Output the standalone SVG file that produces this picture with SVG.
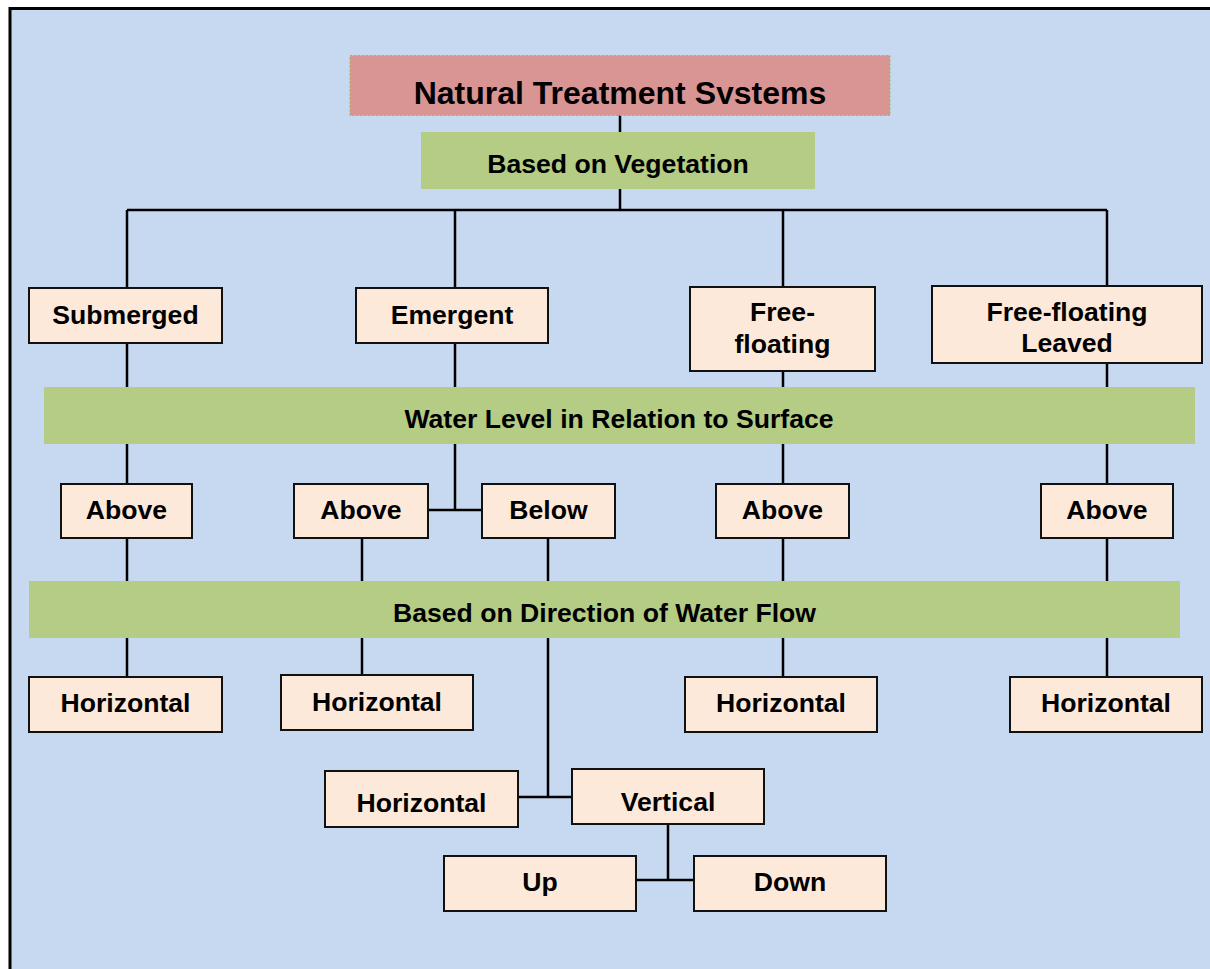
<svg xmlns="http://www.w3.org/2000/svg" width="1210" height="969" viewBox="0 0 1210 969">
<defs>
<style>
.bg{fill:#C6D9F1;stroke:#000;stroke-width:3}
.box{fill:#FDE9D9;stroke:#111;stroke-width:2}
.band{fill:#B4CC84}
.title{fill:#D99594;stroke:#9BBB59;stroke-width:1.2;stroke-dasharray:2 2}
.t{font-family:"Liberation Sans",Arial,sans-serif;font-weight:bold;font-size:26.6px;fill:#000;text-anchor:middle}
.tt{font-family:"Liberation Sans",Arial,sans-serif;font-weight:bold;font-size:32px;fill:#000;text-anchor:middle}
.c{stroke:#000;stroke-width:2.5;fill:none}
</style>
<clipPath id="titleClip"><rect x="350" y="55" width="540" height="49"/></clipPath>
</defs>
<rect class="bg" x="10" y="8.5" width="1215" height="980"/>

<g id="connectors" class="c">
<path d="M620 115V133"/>
<path d="M620 189V210M127 210H1107M127 210V288M455 210V288M783 210V288M1107 210V287"/>
<path d="M127 343V387M455 343V387M783 371V387M1107 364V387"/>
<path d="M127 444V484M455 444V510M428 510H482M783 444V484M1107 444V484"/>
<path d="M127 538V581M362 538V581M548 538V581M783 538V581M1107 538V581"/>
<path d="M127 638V677M362 638V675M548 638V797M518 797H572M783 638V677M1107 638V677"/>
<path d="M668 824V880M636 880H694"/>
</g>

<g id="title">
<rect class="title" x="350" y="55.5" width="540" height="60"/>
<text class="tt" x="620" y="103.5" clip-path="url(#titleClip)">Natural Treatment Systems</text>
</g>
<g id="vegetation">
<rect class="band" x="421" y="132" width="394" height="57"/>
<text class="t" x="618" y="173">Based on Vegetation</text>
</g>

<g id="submerged"><rect class="box" x="29" y="288" width="193" height="55"/><text class="t" x="125.5" y="324">Submerged</text></g>
<g id="emergent"><rect class="box" x="356" y="288" width="192" height="55"/><text class="t" x="452" y="324">Emergent</text></g>
<g id="freefloating"><rect class="box" x="690" y="287" width="185" height="84"/><text class="t" x="782.5" y="321">Free-</text><text class="t" x="782.5" y="353">floating</text></g>
<g id="leaved"><rect class="box" x="932" y="286" width="270" height="77"/><text class="t" x="1067" y="321">Free-floating</text><text class="t" x="1067" y="352">Leaved</text></g>

<g id="waterlevel">
<rect class="band" x="44" y="387" width="1151" height="57"/>
<text class="t" x="619" y="428">Water Level in Relation to Surface</text>
</g>

<g id="above1"><rect class="box" x="61" y="484" width="131" height="54"/><text class="t" x="126.5" y="519">Above</text></g>
<g id="above2"><rect class="box" x="294" y="484" width="134" height="54"/><text class="t" x="361" y="519">Above</text></g>
<g id="below"><rect class="box" x="482" y="484" width="133" height="54"/><text class="t" x="548.5" y="519">Below</text></g>
<g id="above3"><rect class="box" x="716" y="484" width="133" height="54"/><text class="t" x="782.5" y="519">Above</text></g>
<g id="above4"><rect class="box" x="1041" y="484" width="132" height="54"/><text class="t" x="1107" y="519">Above</text></g>

<g id="direction">
<rect class="band" x="29" y="581" width="1151" height="57"/>
<text class="t" x="604.5" y="622">Based on Direction of Water Flow</text>
</g>

<g id="horiz1"><rect class="box" x="29" y="677" width="193" height="55"/><text class="t" x="125.5" y="712">Horizontal</text></g>
<g id="horiz2"><rect class="box" x="281" y="675" width="192" height="55"/><text class="t" x="377" y="711">Horizontal</text></g>
<g id="horiz3"><rect class="box" x="685" y="677" width="192" height="55"/><text class="t" x="781" y="712">Horizontal</text></g>
<g id="horiz4"><rect class="box" x="1010" y="677" width="192" height="55"/><text class="t" x="1106" y="712">Horizontal</text></g>

<g id="horiz5"><rect class="box" x="325" y="771" width="193" height="56"/><text class="t" x="421.5" y="812">Horizontal</text></g>
<g id="vertical"><rect class="box" x="572" y="769" width="192" height="55"/><text class="t" x="668" y="811">Vertical</text></g>
<g id="up"><rect class="box" x="444" y="856" width="192" height="55"/><text class="t" x="540" y="891">Up</text></g>
<g id="down"><rect class="box" x="694" y="856" width="192" height="55"/><text class="t" x="790" y="891">Down</text></g>
</svg>
